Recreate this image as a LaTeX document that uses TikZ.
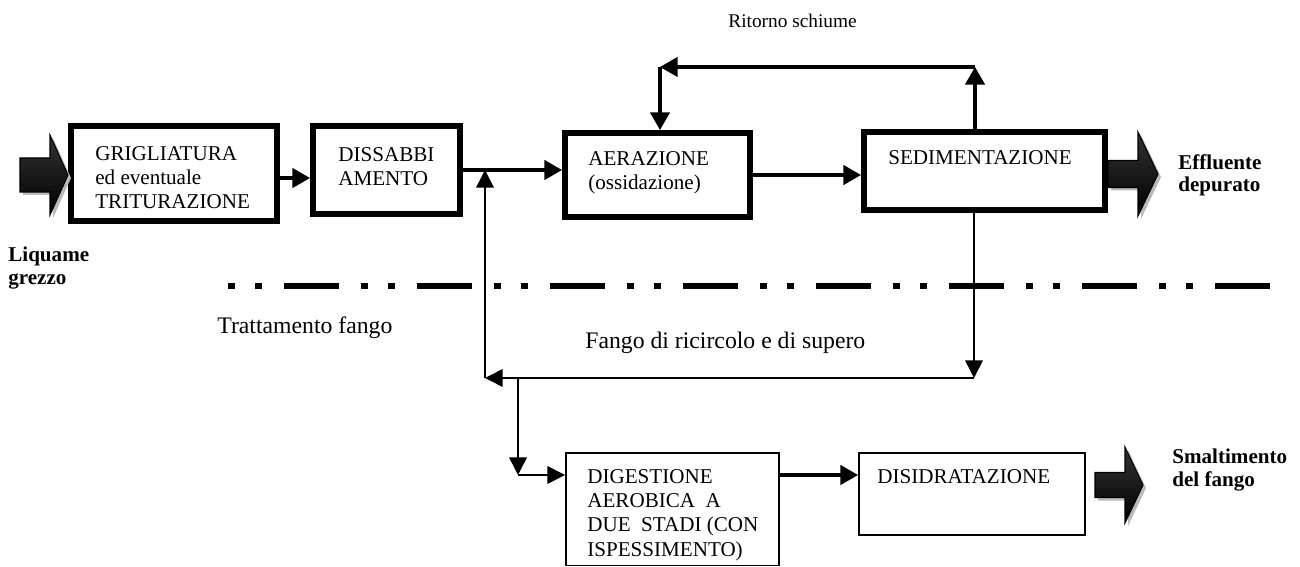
\documentclass[tikz,border=0pt]{standalone}
\usepackage{fontspec}
\setmainfont{Liberation Serif}
\usetikzlibrary{calc,fit,arrows.meta}
\tikzset{
  procbox/.style={draw, line width=3.4pt, inner sep=0pt},
  slimbox/.style={draw, line width=1.1pt, inner sep=0pt},
  boxtext/.style={anchor=north west, inner sep=0pt, align=left, font=\fontsize{12}{13.8}\selectfont},
  sidelabel/.style={anchor=north west, inner sep=0pt, align=left, font=\fontsize{12}{12.8}\selectfont\bfseries},
  plainlabel/.style={anchor=west, inner sep=0pt},
  flow/.style={line width=1.8pt, -{Triangle[length=10pt,width=11pt]}},
  back/.style={line width=0.9pt, -{Triangle[length=10pt,width=10pt]}},
}
% fat arrow: x start, head start, tip, y centre, half shaft, half head
\def\fatarrow(#1,#2,#3,#4,#5,#6){
  \fill[gray!55] ({#1+3},{#4-#5+3}) -- ({#2+3},{#4-#5+3}) -- ({#2+3},{#4-#6+3}) -- ({#3+3},{#4+3})
    -- ({#2+3},{#4+#6+3}) -- ({#2+3},{#4+#5+3}) -- ({#1+3},{#4+#5+3}) -- cycle;
  \shade[top color=black!80, middle color=black, bottom color=black, draw=black, line width=0.6pt]
    (#1,{#4-#5}) -- (#2,{#4-#5}) -- (#2,{#4-#6}) -- (#3,#4) -- (#2,{#4+#6}) -- (#2,{#4+#5}) -- (#1,{#4+#5}) -- cycle;
}

\begin{document}
\begin{tikzpicture}[x=0.02cm, y=-0.02cm]
		\useasboundingbox (0,0) rectangle (1300,567);
		
		%%%%% boxes %%%%%
		\node[procbox, fit={(71,126) (277,221)}] (grig) {};
		\node[procbox, fit={(313,126) (460,214)}] (diss) {};
		\node[procbox, fit={(565,133) (750,217)}] (aer) {};
		\node[procbox, fit={(864,132) (1105,210)}] (sed) {};
		\node[slimbox, fit={(566,453) (779,565.5)}] (dig) {};
		\node[slimbox, fit={(859,453) (1085,535)}] (dis) {};
		
		\node[boxtext] (grigtxt) at (95,146) {GRIGLIATURA\\ed eventuale\\TRITURAZIONE};
		\node[boxtext] (disstxt) at (338,147) {DISSABBI\\AMENTO};
		\node[boxtext] (aertxt) at (588,151) {AERAZIONE\\(ossidazione)};
		\node[boxtext] (sedtxt) at (888,150) {SEDIMENTAZIONE};
		\node[boxtext] (digtxt) at (587,469) {DIGESTIONE\\AEROBICA\ \ A\\DUE\ \ STADI (CON\\ISPESSIMENTO)};
		\node[boxtext] (distxt) at (877,469) {DISIDRATAZIONE};
		
		%%%%% labels %%%%%
		\node[sidelabel] (liq) at (8,247) {Liquame\\grezzo};
		\node[sidelabel] (eff) at (1178,154) {Effluente\\depurato};
		\node[sidelabel] (smal) at (1172,449) {Smaltimento\\del fango};
		\node[plainlabel, font=\fontsize{11}{13}\selectfont] (ritorno) at (728,21) {Ritorno schiume};
		\node[plainlabel, font=\fontsize{13.5}{16}\selectfont] (tratt) at (217,328) {Trattamento fango};
		\node[plainlabel, font=\fontsize{13.5}{16}\selectfont] (ricirc) at (585,343) {Fango di ricircolo e di supero};
		
		%%%%% separator %%%%%
		\draw[line width=2.85pt, dash pattern=on 4pt off 11.4pt on 4pt off 12.5pt on 31.3pt off 12.5pt] (228,286) -- (1270,286);
		
		%%%%% fat arrows %%%%%
		\fatarrow(20,50,68,175,17,40)
		\fatarrow(1108,1138,1158,174,13.5,42)
		\fatarrow(1095,1125,1143,485,12.5,38)
		
		%%%%% connectors %%%%%
		\coordinate (rs) at (975,67);
		\coordinate (ra) at (660,67);
		\coordinate (jn) at (485,170);
		\coordinate (fr) at (974,378);
		\coordinate (fl) at (485,378);
		\coordinate (fd) at (518,378);
		\coordinate (dd) at (518,475);
		
		\draw[flow] (grig.east |- 0,178) -- (diss.west |- 0,178);
		\draw[flow] (diss.east |- jn) -- (aer.west |- jn);
		\draw[flow] (aer.east) -- (sed.west |- aer.east);
		\draw[flow] (sed.north -| rs) -- (rs);
		\draw[flow] (rs) -- (ra);
		\draw[flow] (ra) -- (aer.north -| ra);
		\draw[flow] (dig.east |- dd) -- (dis.west |- dd);
		
		\draw[back] (sed.south -| fr) -- (fr);
		\draw[back] (fr) -- (fl);
		\draw[back] (fl) -- (jn);
		\draw[back] (fd) -- (dd);
		\draw[back] (dd) -- (dig.west |- dd);
		
	\end{tikzpicture}
\end{document}
